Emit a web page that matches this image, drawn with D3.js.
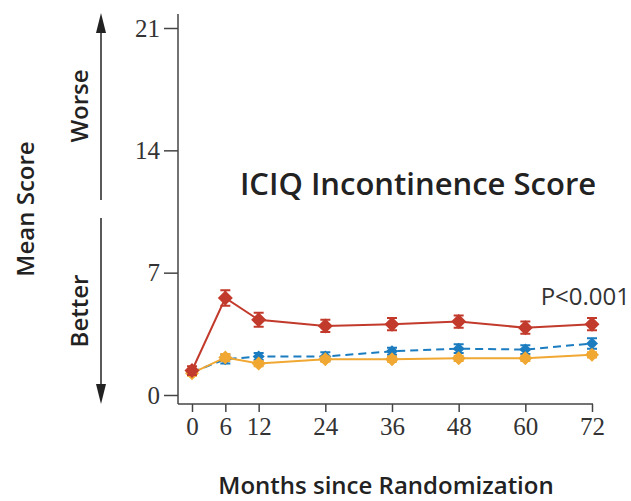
<!DOCTYPE html>
<html>
<head>
<meta charset="utf-8">
<style>
  body { margin: 0; background: #fff; }
  svg text { font-family: "Open Sans", "Noto Sans", sans-serif; }
</style>
</head>
<body>
<script src="https://d3js.org/d3.v7.min.js"></script>
<script>
// months since randomization
var months = [0, 6, 12, 24, 36, 48, 60, 72];
var xTicks = [0, 6, 12, 24, 36, 48, 60, 72];
var yTicks = [0, 7, 14, 21];

// mean ICIQ scores
var redMean    = [1.4, 5.55, 4.3, 3.95, 4.05, 4.2, 3.85, 4.05];
var redErr     = [0.25, 0.45, 0.4, 0.35, 0.35, 0.35, 0.35, 0.35];
var blueMean   = [1.3, 2.05, 2.2, 2.2, 2.5, 2.65, 2.6, 2.95];
var blueErr    = [0.15, 0.25, 0.2, 0.25, 0.2, 0.25, 0.25, 0.3];
var orangeMean = [1.25, 2.15, 1.8, 2.05, 2.05, 2.1, 2.1, 2.3];
var orangeErr  = [0.15, 0.2, 0.15, 0.15, 0.15, 0.15, 0.15, 0.15];

var series = [
  {mean: blueMean, err: blueErr, color: "#1b7cc0", dash: "8,5", size: 6},
  {mean: orangeMean, err: orangeErr, color: "#f0a833", dash: null, size: 7},
  {mean: redMean, err: redErr, color: "#c23a2b", dash: null, size: 7.5}
];

var width = 631, height = 501;

var svg = d3.select("body").append("svg")
    .attr("width", width)
    .attr("height", height);

var x = d3.scaleLinear().domain([0, 72]).range([192, 592]);
var y = d3.scaleLinear().domain([0, 21]).range([395, 28]);

// axes
var yAxis = d3.axisLeft(y).tickValues(yTicks).tickSize(14).tickPadding(4);
var gy = svg.append("g").attr("transform", "translate(178,0)").call(yAxis);
gy.select(".domain").remove();
gy.append("line").attr("x1", 0).attr("x2", 0).attr("y1", 14).attr("y2", 404)
  .attr("stroke", "#444").attr("stroke-width", 1.5);
gy.selectAll(".tick line").attr("stroke", "#444").attr("stroke-width", 1.5);
gy.selectAll(".tick text")
  .attr("fill", "#333")
  .style("font-family", "'Liberation Serif', serif")
  .style("font-size", "25px");

var xAxis = d3.axisBottom(x).tickValues(xTicks).tickSize(8).tickPadding(5);
var gx = svg.append("g").attr("transform", "translate(0,404)").call(xAxis);
gx.select(".domain").remove();
gx.append("line").attr("x1", 178).attr("x2", 593).attr("y1", 0).attr("y2", 0)
  .attr("stroke", "#444").attr("stroke-width", 1.5);
gx.selectAll(".tick line").attr("stroke", "#444").attr("stroke-width", 1.5);
gx.selectAll(".tick text")
  .attr("fill", "#333")
  .style("font-family", "'Liberation Serif', serif")
  .style("font-size", "25px");

// lines, error bars, markers
var line = d3.line()
  .x(function(d, i) { return x(months[i]); })
  .y(function(d) { return y(d); });

series.forEach(function(s) {
  var g = svg.append("g");
  g.append("path")
    .attr("d", line(s.mean))
    .attr("fill", "none")
    .attr("stroke", s.color)
    .attr("stroke-width", 2)
    .attr("stroke-dasharray", s.dash);

  var pts = g.selectAll(".pt").data(s.mean).enter().append("g")
    .attr("transform", function(d, i) { return "translate(" + x(months[i]) + "," + y(d) + ")"; });

  pts.append("path")
    .attr("d", function(d, i) {
      var h = y(d - s.err[i]) - y(d);
      return "M0," + (-h) + "V" + h + "M-5," + (-h) + "H5M-5," + h + "H5";
    })
    .attr("stroke", s.color)
    .attr("stroke-width", 2);

  pts.append("path")
    .attr("d", "M0," + (-s.size) + "L" + s.size + ",0L0," + s.size + "L" + (-s.size) + ",0Z")
    .attr("fill", s.color);
});

// texts
svg.append("text")
  .attr("x", 418).attr("y", 195)
  .attr("text-anchor", "middle")
  .style("font-size", "31px").style("font-weight", 600)
  .attr("fill", "#222")
  .text("ICIQ Incontinence Score");

svg.append("text")
  .attr("x", 630).attr("y", 305)
  .attr("text-anchor", "end")
  .style("font-size", "24px")
  .attr("fill", "#333")
  .text("P<0.001");

svg.append("text")
  .attr("transform", "translate(386,494)")
  .attr("text-anchor", "middle")
  .style("font-size", "24px").style("font-weight", 600)
  .attr("fill", "#222")
  .text("Months since Randomization");

svg.append("text")
  .attr("transform", "translate(34,209) rotate(-90)")
  .attr("text-anchor", "middle")
  .style("font-size", "24px").style("font-weight", 600)
  .attr("fill", "#222")
  .text("Mean Score");

svg.append("text")
  .attr("transform", "translate(88,106) rotate(-90)")
  .attr("text-anchor", "middle")
  .style("font-size", "24px").style("font-weight", 600)
  .attr("fill", "#222")
  .text("Worse");

svg.append("text")
  .attr("transform", "translate(88,311) rotate(-90)")
  .attr("text-anchor", "middle")
  .style("font-size", "24px").style("font-weight", 600)
  .attr("fill", "#222")
  .text("Better");

// direction arrows
var arrowX = 101;
svg.append("line").attr("x1", arrowX).attr("x2", arrowX).attr("y1", 30).attr("y2", 200)
  .attr("stroke", "#222").attr("stroke-width", 1.5);
svg.append("path").attr("d", "M" + arrowX + ",13L" + (arrowX - 5) + ",33L" + (arrowX + 5) + ",33Z").attr("fill", "#222");
svg.append("line").attr("x1", arrowX).attr("x2", arrowX).attr("y1", 218).attr("y2", 388)
  .attr("stroke", "#222").attr("stroke-width", 1.5);
svg.append("path").attr("d", "M" + arrowX + ",404L" + (arrowX - 5) + ",384L" + (arrowX + 5) + ",384Z").attr("fill", "#222");
</script>
</body>
</html>
